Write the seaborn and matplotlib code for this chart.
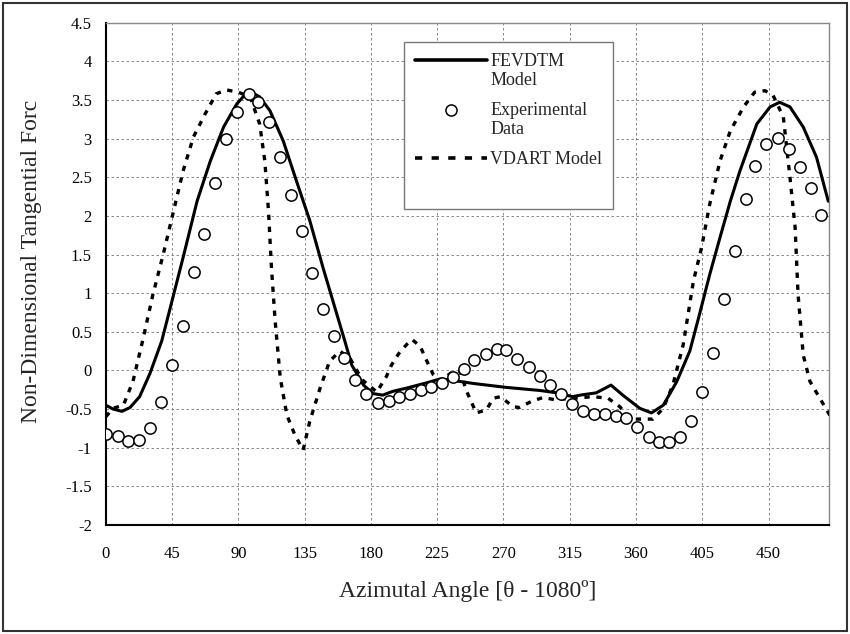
import matplotlib
matplotlib.use("Agg")
import matplotlib.pyplot as plt
import seaborn as sns
import pandas as pd
from matplotlib.patches import Rectangle
from matplotlib.lines import Line2D
from matplotlib.legend_handler import HandlerLine2D
from matplotlib.transforms import Affine2D

# ---------------- data ----------------
exp_x = [0, 8, 15, 22.5, 30, 37.5, 45, 52.5, 60, 67, 74, 81.5, 89, 97, 103.5, 111,
         118.5, 126, 133, 140, 147.5, 155, 162, 169, 177, 184.5, 192, 199, 206.5,
         214, 221, 228, 236, 243, 250, 258, 265.5, 272, 279.5, 287, 294.5, 301.5,
         309, 316.5, 324, 331.5, 339, 346.5, 353.5, 360.5, 368.5, 375.5, 382.5,
         390, 397, 405, 412, 419.5, 427, 434.5, 441, 448.5, 456.5, 464, 471,
         478.5, 485.5]
exp_y = [-0.82, -0.85, -0.91, -0.90, -0.74, -0.41, 0.07, 0.58, 1.27, 1.77, 2.43,
         3.0, 3.35, 3.58, 3.48, 3.22, 2.76, 2.27, 1.80, 1.26, 0.79, 0.45, 0.16,
         -0.13, -0.31, -0.42, -0.40, -0.35, -0.30, -0.25, -0.22, -0.16, -0.09,
         0.02, 0.13, 0.21, 0.28, 0.26, 0.15, 0.05, -0.07, -0.19, -0.30,
         -0.44, -0.52, -0.57, -0.57, -0.59, -0.62, -0.73, -0.86, -0.92, -0.92,
         -0.86, -0.66, -0.28, 0.23, 0.92, 1.55, 2.22, 2.64, 2.93, 3.01, 2.87,
         2.63, 2.36, 2.01]

fev_x = [0, 5, 11, 16.5, 23, 30, 38, 45, 52.5, 62, 71, 80, 89, 97, 104.5, 111.5,
         120.5, 129.5, 138.5, 147.5, 157, 162, 167, 175, 181.5, 188, 195, 204,
         218, 227, 236, 250, 272, 295, 306, 317, 322, 333, 343, 351, 362.5,
         370.5, 378.5, 387.5, 396.5, 403, 410, 417, 424, 430.5, 442, 451, 457.5,
         464.5, 473.5, 482.5, 490.5]
fev_y = [-0.45, -0.50, -0.53, -0.48, -0.34, -0.04, 0.38, 0.90, 1.46, 2.19, 2.71,
         3.15, 3.45, 3.62, 3.54, 3.36, 2.97, 2.45, 1.94, 1.33, 0.72, 0.40, 0.07,
         -0.19, -0.30, -0.32, -0.27, -0.23, -0.16, -0.11, -0.13, -0.17, -0.22,
         -0.26, -0.29, -0.34, -0.32, -0.29, -0.19, -0.32, -0.49, -0.55, -0.45,
         -0.15, 0.25, 0.72, 1.24, 1.72, 2.19, 2.58, 3.19, 3.41, 3.47, 3.41, 3.15,
         2.76, 2.19]

vd_x = [0, 5, 12, 18.5, 25.5, 32, 39, 46, 52.5, 59.5, 67.5, 75, 82, 90, 98, 104.5,
        108, 110.5, 112.5, 115, 118.5, 123, 128.5, 134, 138.5, 145.5, 152, 159,
        166, 174, 184, 190.5, 194, 199, 204.5, 208, 213.5, 218, 222.5, 227, 236,
        240.5, 245, 251.5, 258.5, 263, 268, 276.5, 281, 289, 297, 305, 317, 331,
        341, 349, 356, 371.5, 378.5, 385, 392, 399, 404.5, 410, 417, 424, 433,
        440.5, 447.5, 453, 460, 464.5, 468, 470, 473.5, 478, 486, 494]
vd_y = [-0.60, -0.49, -0.45, -0.14, 0.42, 0.98, 1.50, 2.06, 2.58, 3.02, 3.32, 3.58,
        3.63, 3.60, 3.54, 3.19, 2.71, 2.06, 1.33, 0.64, -0.10, -0.58, -0.84,
        -1.03, -0.66, -0.23, 0.12, 0.25, 0.15, -0.12, -0.28, -0.08, 0.07, 0.22,
        0.34, 0.40, 0.31, 0.12, -0.06, -0.14, -0.01, -0.01, -0.27, -0.55, -0.51,
        -0.36, -0.34, -0.47, -0.48, -0.40, -0.35, -0.38, -0.36, -0.34, -0.36,
        -0.47, -0.63, -0.63, -0.49, -0.19, 0.33, 1.16, 1.59, 2.15, 2.71, 3.10,
        3.41, 3.60, 3.62, 3.56, 3.28, 2.50, 1.85, 0.98, 0.20, -0.14, -0.40, -0.66]

x_ticks = [0, 45, 90, 135, 180, 225, 270, 315, 360, 405, 450]
y_ticks = [-2, -1.5, -1, -0.5, 0, 0.5, 1, 1.5, 2, 2.5, 3, 3.5, 4, 4.5]
y_tick_labels = ["-2", "-1.5", "-1", "-0.5", "0", "0.5", "1", "1.5", "2", "2.5",
                 "3", "3.5", "4", "4.5"]
legend_labels = ["FEVDTM\nModel", "Experimental\nData", "VDART Model"]

df_exp = pd.DataFrame({"angle": exp_x, "force": exp_y})
df_fev = pd.DataFrame({"angle": fev_x, "force": fev_y})
df_vd = pd.DataFrame({"angle": vd_x, "force": vd_y})

# ---------------- style ----------------
sns.set_theme(style="white")
plt.rcParams["font.family"] = ["Liberation Serif", "DejaVu Serif"]

fig = plt.figure(figsize=(8.5, 6.34), dpi=100)
ax = fig.add_axes([0.1244, 0.1720, 0.8509, 0.7922])

sns.lineplot(data=df_fev, x="angle", y="force", ax=ax, color="black", lw=2.2,
             sort=False, estimator=None, zorder=3, legend=False)
sns.scatterplot(data=df_exp, x="angle", y="force", ax=ax, marker="o", s=66,
                color="white", edgecolor="black", linewidth=1.1, zorder=4,
                legend=False)
sns.lineplot(data=df_vd, x="angle", y="force", ax=ax, color="black", lw=2.4,
             sort=False, estimator=None, zorder=3, legend=False)
ax.lines[-1].set_dashes([1.6, 2.0])

ax.set_xlim(0, 491)
ax.set_ylim(-2, 4.5)
ax.set_xticks(x_ticks)
ax.set_xticklabels([str(t) for t in x_ticks])
ax.set_yticks(y_ticks)
ax.set_yticklabels(y_tick_labels)

ax.grid(True, which="major", color="#777777", linestyle=(0, (3, 3)), lw=0.6)
ax.set_axisbelow(True)

for side in ["left", "bottom"]:
    ax.spines[side].set_color("black")
    ax.spines[side].set_linewidth(1.5)
for side in ["top", "right"]:
    ax.spines[side].set_color("#888888")
    ax.spines[side].set_linewidth(1.0)

ax.tick_params(axis="both", direction="inout", length=10, width=1.2,
               colors="black", labelsize=12)
ax.tick_params(axis="x", pad=10)
ax.tick_params(axis="y", pad=5)

ax.set_xlabel("Azimutal Angle [θ - 1080º]", fontsize=17, labelpad=13)
ax.set_ylabel("Non-Dimensional Tangential Forc", fontsize=17)
ax.yaxis.set_label_coords(-0.088, 0.525)


# legend: handles aligned with the first line of each label
class TopAlignedHandler(HandlerLine2D):
    def __init__(self, nlines=1, **kw):
        super().__init__(**kw)
        self.nlines = nlines

    def create_artists(self, legend, orig_handle, xdescent, ydescent, width,
                       height, fontsize, trans):
        dy = 0.6 * fontsize * (self.nlines - 1)
        t2 = Affine2D().translate(0, dy) + trans
        return super().create_artists(legend, orig_handle, xdescent, ydescent,
                                      width, height, fontsize, t2)


h_fev = Line2D([], [], color="black", lw=2.6)
h_exp = Line2D([], [], ls="none", marker="o", ms=8, mfc="white", mec="black",
               mew=1.1)
h_vd = Line2D([], [], color="black", lw=2.6, dashes=[2.0, 2.6])
h_blank = Line2D([], [], color="none")

leg = ax.legend([h_fev, h_exp, h_vd, h_blank], legend_labels + [" "],
                handler_map={h_fev: TopAlignedHandler(2),
                             h_exp: TopAlignedHandler(2, numpoints=1),
                             h_vd: TopAlignedHandler(1)},
                loc="upper left", bbox_to_anchor=(0.412, 0.962),
                borderaxespad=0, fontsize=13, frameon=True, fancybox=False,
                edgecolor="#777777", framealpha=1, handlelength=4.0,
                handletextpad=0.2, labelspacing=0.7, borderpad=0.6)
leg.get_frame().set_linewidth(1.0)

# outer frame
fig.patches.append(Rectangle((0.004, 0.005), 0.992, 0.99, transform=fig.transFigure,
                             fill=False, edgecolor="#333333", lw=1.5))

fig.savefig("out.png", dpi=100)
